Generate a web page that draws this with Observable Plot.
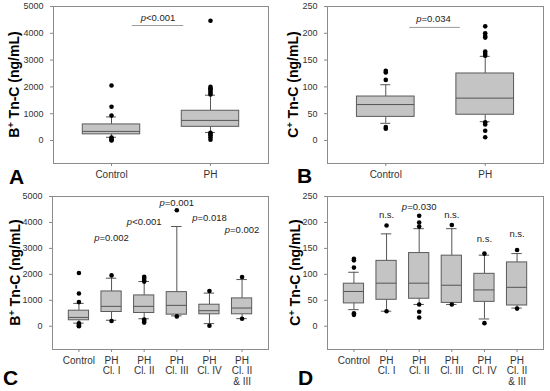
<!DOCTYPE html>
<html><head><meta charset="utf-8">
<script src="https://cdn.jsdelivr.net/npm/d3@7"></script>
<script src="https://cdn.jsdelivr.net/npm/@observablehq/plot@0.6"></script>
<style>
body{margin:0;background:#fff;}
#root{position:relative;width:550px;height:391px;overflow:hidden;font-family:"Liberation Sans",Arial,sans-serif;background:#fff;}
.panel{position:absolute;}
.letter{position:absolute;font:bold 21px "Liberation Sans",Arial,sans-serif;color:#000;line-height:16px;}
</style></head><body><div id="root"></div>
<script>
// ---------- categories ----------
const groupsTop = ["Control", "PH"];
const groupsBottom = ["Control", "PH\nCl. I", "PH\nCl. II", "PH\nCl. III", "PH\nCl. IV", "PH\nCl. II\n& III"];

// ---------- tick values ----------
const ticksB = [0, 1000, 2000, 3000, 4000, 5000];
const ticksC = [0, 50, 100, 150, 200, 250];

// ---------- Panel A: B+ Tn-C, Control vs PH ----------
const aQ1 = [230, 510];
const aMed = [340, 750];
const aQ3 = [600, 1110];
const aLo = [120, 300];
const aHi = [880, 1690];
const aOut = [[2050, 1260, 930, 110, 60, 20, 0], [4470, 2000, 1950, 1900, 1850, 1780, 1720, 290, 250, 200, 120, 30]];
const aLabText = ["p<0.001"];
const aLabX = [0.47];
const aLabY = [4590];
const aSigX1 = [0.21], aSigX2 = [0.73], aSigY = [4290];

// ---------- Panel B: C+ Tn-C, Control vs PH ----------
const bQ1 = [44, 48];
const bMed = [67, 79];
const bQ3 = [82, 125];
const bLo = [32, 35];
const bHi = [104, 157];
const bOut = [[130, 127, 113, 25, 22], [213, 200, 195, 192, 166, 162, 158, 34, 30, 18, 6]];
const bLabText = ["p=0.034"];
const bLabX = [0.48];
const bLabY = [227];
const bSigX1 = [0.24], bSigX2 = [0.75], bSigY = [211];

// ---------- Panel C: B+ Tn-C by class ----------
const cQ1 = [230, 549, 511, 447, 460, 460];
const cMed = [340, 766, 766, 805, 600, 702];
const cQ3 = [600, 1341, 1188, 1315, 830, 1073];
const cLo = [120, 230, 290, 400, 102, 294];
const cHi = [880, 1852, 1724, 3844, 1277, 1800];
const cOut = [[2050, 1260, 930, 110, 60, 20, 0], [1960, 200], [1910, 1860, 1780, 1720, 260, 200, 140], [4470, 380], [1360, 20], [1900, 290]];
const cLabText = ["p=0.002", "p<0.001", "p=0.001", "p=0.018", "p=0.002"];
const cLabX = [1, 2, 3, 4, 5];
const cLabY = [3396, 4038, 4757, 4165, 3692];

// ---------- Panel D: C+ Tn-C by class ----------
const dQ1 = [44, 51, 53, 45, 47, 40];
const dMed = [67, 83, 83, 79, 70, 75];
const dQ3 = [82, 126, 141, 136, 101, 123];
const dLo = [32, 29, 42, 42, 14, 35];
const dHi = [104, 178, 188, 188, 137, 140];
const dOut = [[130, 127, 113, 25, 22], [194, 29], [213, 200, 192, 42, 28, 17], [195, 42], [140, 6], [147, 34]];
const dLabText = ["n.s.", "p=0.030", "n.s.", "n.s.", "n.s."];
const dLabX = [1, 2, 3, 4, 5];
const dLabY = [215, 229, 215, 169, 178];

const FONT = '"Liberation Sans", Arial, sans-serif';

function buildPanel(cfg) {
  const stats = cfg.groups.map((g, i) => ({i, q1: cfg.q1[i], med: cfg.med[i], q3: cfg.q3[i], lo: cfg.lo[i], hi: cfg.hi[i]}));
  const pts = cfg.out.flatMap((arr, i) => arr.map(v => ({i, v})));
  const lab = cfg.labText.map((t, k) => ({t, x: cfg.labX[k], y: cfg.labY[k]}));
  const hb = cfg.halfBox, hc = cfg.halfCap;
  const marks = [
    Plot.ruleX(stats, {x: "i", y1: "q3", y2: "hi", stroke: "#555", strokeWidth: 1}),
    Plot.ruleX(stats, {x: "i", y1: "lo", y2: "q1", stroke: "#555", strokeWidth: 1}),
    Plot.ruleY(stats, {y: "hi", x1: d => d.i - hc, x2: d => d.i + hc, stroke: "#555"}),
    Plot.ruleY(stats, {y: "lo", x1: d => d.i - hc, x2: d => d.i + hc, stroke: "#555"}),
    Plot.rect(stats, {x1: d => d.i - hb, x2: d => d.i + hb, y1: "q1", y2: "q3", fill: "#c4c4c4", stroke: "#5a5a5a"}),
    Plot.ruleY(stats, {y: "med", x1: d => d.i - hb, x2: d => d.i + hb, stroke: "#555"}),
    Plot.dot(pts, {x: "i", y: "v", r: 2.3, fill: "#000"}),
    Plot.text(lab, {x: "x", y: "y", text: "t", fontSize: 9.5, fill: "#222", className: "pval"}),
    Plot.frame({stroke: "#8c8c8c"}),
    Plot.axisY({ticks: cfg.yTicks, tickFormat: d => String(d), tickSize: 3, tickPadding: 7, stroke: "#888", fill: "#333", fontSize: 9, label: null}),
    Plot.axisX({ticks: cfg.groups.map((g, i) => i), tickFormat: i => cfg.groups[i], tickSize: 3, tickPadding: 4, stroke: "#888", fill: "#333", fontSize: 10, lineHeight: 1.05, label: null})
  ];
  if (cfg.sigY) {
    const sig = cfg.sigY.map((y, k) => ({y, x1: cfg.sigX1[k], x2: cfg.sigX2[k]}));
    marks.push(Plot.ruleY(sig, {y: "y", x1: "x1", x2: "x2", stroke: "#9a9a9a"}));
  }
  const svg = Plot.plot({
    width: 275, height: cfg.height,
    marginLeft: cfg.marginLeft, marginRight: 7, marginTop: 6, marginBottom: cfg.marginBottom,
    x: {domain: cfg.xDomain},
    y: {domain: cfg.yDomain},
    style: {fontFamily: FONT, background: "transparent", overflow: "visible"},
    marks
  });
  // italic "p" in p-values
  d3.select(svg).selectAll('.pval text, text.pval').each(function() {
    const t = this.textContent;
    if (t.startsWith("p")) {
      this.textContent = "";
      d3.select(this).append("tspan").style("font-style", "italic").text("p");
      d3.select(this).append("tspan").text(t.slice(1));
    }
  });
  // y-axis title with superscript
  const cy = (6 + cfg.height - cfg.marginBottom) / 2;
  const tt = d3.select(svg).append("text")
    .attr("transform", `translate(${cfg.titleX},${cy}) rotate(-90)`)
    .attr("text-anchor", "middle")
    .attr("font-weight", "bold").attr("font-size", 14).attr("fill", "#000")
    .style("font-family", FONT);
  tt.append("tspan").text(cfg.titleLetter);
  tt.append("tspan").attr("dy", -5).attr("font-size", 9).text("+");
  tt.append("tspan").attr("dy", 5).text(" Tn-C (ng/mL)");
  const div = document.createElement("div");
  div.className = "panel";
  div.style.left = cfg.left + "px";
  div.style.top = cfg.top + "px";
  div.appendChild(svg);
  document.getElementById("root").appendChild(div);
  const L = document.createElement("div");
  L.className = "letter";
  L.textContent = cfg.letter;
  L.style.left = cfg.letterX + "px";
  L.style.top = cfg.letterY + "px";
  document.getElementById("root").appendChild(L);
}

buildPanel({groups: groupsTop, q1: aQ1, med: aMed, q3: aQ3, lo: aLo, hi: aHi, out: aOut,
  labText: aLabText, labX: aLabX, labY: aLabY, sigX1: aSigX1, sigX2: aSigX2, sigY: aSigY,
  yDomain: [-858, 5000], yTicks: ticksB, xDomain: [-0.586, 1.586], halfBox: 0.29, halfCap: 0.05,
  marginLeft: 53, marginBottom: 32, height: 195, left: 0, top: 0,
  titleX: 19, titleLetter: "B", letter: "A", letterX: 9, letterY: 169});

buildPanel({groups: groupsTop, q1: bQ1, med: bMed, q3: bQ3, lo: bLo, hi: bHi, out: bOut,
  labText: bLabText, labX: bLabX, labY: bLabY, sigX1: bSigX1, sigX2: bSigX2, sigY: bSigY,
  yDomain: [-43, 250], yTicks: ticksC, xDomain: [-0.586, 1.586], halfBox: 0.29, halfCap: 0.05,
  marginLeft: 52, marginBottom: 32, height: 195, left: 275, top: 0,
  titleX: 23, titleLetter: "C", letter: "B", letterX: 297, letterY: 168});

buildPanel({groups: groupsBottom, q1: cQ1, med: cMed, q3: cQ3, lo: cLo, hi: cHi, out: cOut,
  labText: cLabText, labX: cLabX, labY: cLabY,
  yDomain: [-896, 5000], yTicks: ticksB, xDomain: [-0.81, 5.81], halfBox: 0.31, halfCap: 0.16,
  marginLeft: 52, marginBottom: 42, height: 201, left: 0, top: 190,
  titleX: 20, titleLetter: "B", letter: "C", letterX: 3, letterY: 370});

buildPanel({groups: groupsBottom, q1: dQ1, med: dMed, q3: dQ3, lo: dLo, hi: dHi, out: dOut,
  labText: dLabText, labX: dLabX, labY: dLabY,
  yDomain: [-44.8, 250], yTicks: ticksC, xDomain: [-0.81, 5.81], halfBox: 0.31, halfCap: 0.16,
  marginLeft: 52, marginBottom: 42, height: 201, left: 275, top: 190,
  titleX: 25, titleLetter: "C", letter: "D", letterX: 298, letterY: 370});
</script>
</body></html>
